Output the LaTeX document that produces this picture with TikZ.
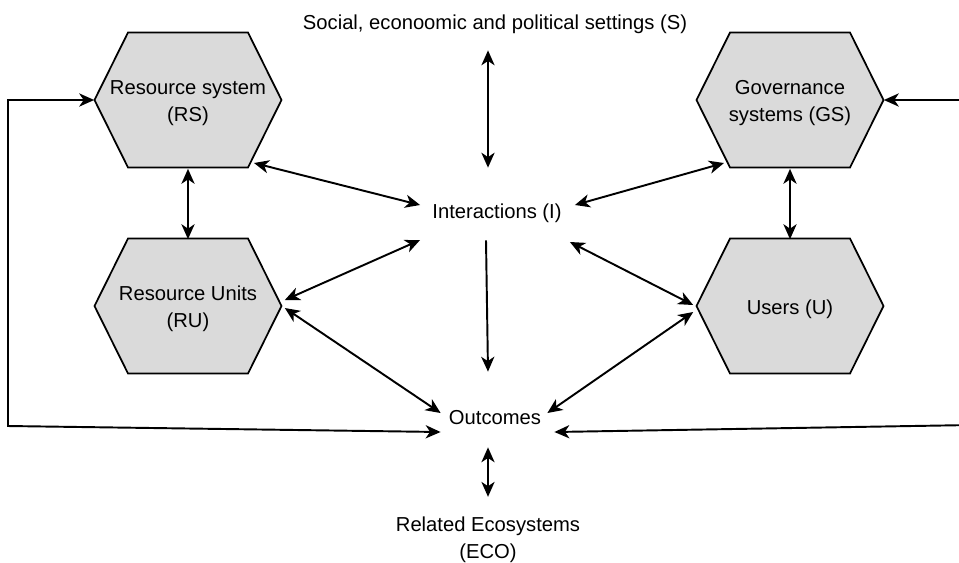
\documentclass[tikz,border=0pt]{standalone}
\usepackage{fontspec}
\setmainfont{Liberation Sans}
\usetikzlibrary{arrows.meta, positioning, calc}
\definecolor{hexgray}{RGB}{218,218,218}

\tikzset{
  hex/.style={draw=black, fill=hexgray, line width=1pt, line join=miter},
  hexnode/.style={minimum width=3.74cm, minimum height=2.7cm, inner sep=0pt, align=center},
  lbl/.style={inner sep=0pt, minimum height=0.5cm, align=center},
  link/.style={line width=1.1pt, {Stealth[length=8.5pt, width=7.5pt, inset=2.5pt]}-{Stealth[length=8.5pt, width=7.5pt, inset=2.5pt]}},
  flow/.style={line width=1.1pt, -{Stealth[length=8.5pt, width=7.5pt, inset=2.5pt]}}
}

\begin{document}
\begin{tikzpicture}[x=0.02cm, y=-0.02cm, font=\fontsize{11.5}{15.3}\selectfont]
 \useasboundingbox (0,0) rectangle (959,562);
 % hexagons
 \foreach \cx/\cy in {188/100, 188/306, 790/100, 790/306}
   \draw[hex] (\cx,\cy) ++(-93.5,0) -- ++(33.5,-67.5) -- ++(120,0) -- ++(33.5,67.5)
     -- ++(-33.5,67.5) -- ++(-120,0) -- cycle;
 \node[hexnode] (RS) at (188,103) {Resource system\\(RS)};
 \node[hexnode] (RU) at (188,309) {Resource Units\\(RU)};
 \node[hexnode] (GS) at (790,103) {Governance\\systems (GS)};
 \node[hexnode] (U) at (790,309) {Users (U)};
 % labels
 \node[lbl] (S) at (495,24) {Social, econoomic and political settings (S)};
 \node[lbl] (I) at (497,213) {Interactions (I)};
 \node[lbl] (O) at (495,418) {Outcomes};
 \node[lbl] (ECO) at (488,540) {Related Ecosystems\\(ECO)};
 \coordinate (fbL) at (8,426);
 \coordinate (fbR) at (972,425);
 % connectors
 \draw[link] ($(S.south)+(-7,13.5)$) -- ($(I.north)+(-9,-32.5)$);
 \draw[link] ($(RS.south)+(0,-2)$) -- ($(RU.north)+(0,-2)$);
 \draw[link] ($(GS.south)+(0,-2)$) -- ($(U.north)+(0,-2)$);
 \draw[link] ($(RS.center)+(66,60)$) -- ($(I.west)+(-12,-8)$);
 \draw[link] ($(RU.east)+(3,-9)$) -- ($(I.west)+(-12,27)$);
 \draw[link] ($(RU.east)+(3,-1)$) -- ($(O.west)+(-8,-5)$);
 \draw[link] ($(GS.center)+(-66,60)$) -- ($(I.east)+(13,-8)$);
 \draw[link] ($(U.west)+(-3,-4)$) -- ($(I.east)+(8,29)$);
 \draw[link] ($(U.west)+(-3,3)$) -- ($(O.east)+(6,-5)$);
 \draw[flow] ($(I.south)+(-11,14.5)$) -- ($(O.north)+(-7,-33.5)$);
 \draw[link] ($(O.south)+(-7,16.5)$) -- ($(ECO.north)+(0,-20)$);
 % feedback loops
 \draw[link] ($(RS.west)+(0,-3)$) -| (fbL) -- ($(O.west)+(-8,14)$);
 \draw[link] ($(GS.east)+(0,-3)$) -| (fbR) -- ($(O.east)+(13,14)$);
\end{tikzpicture}
\end{document}
